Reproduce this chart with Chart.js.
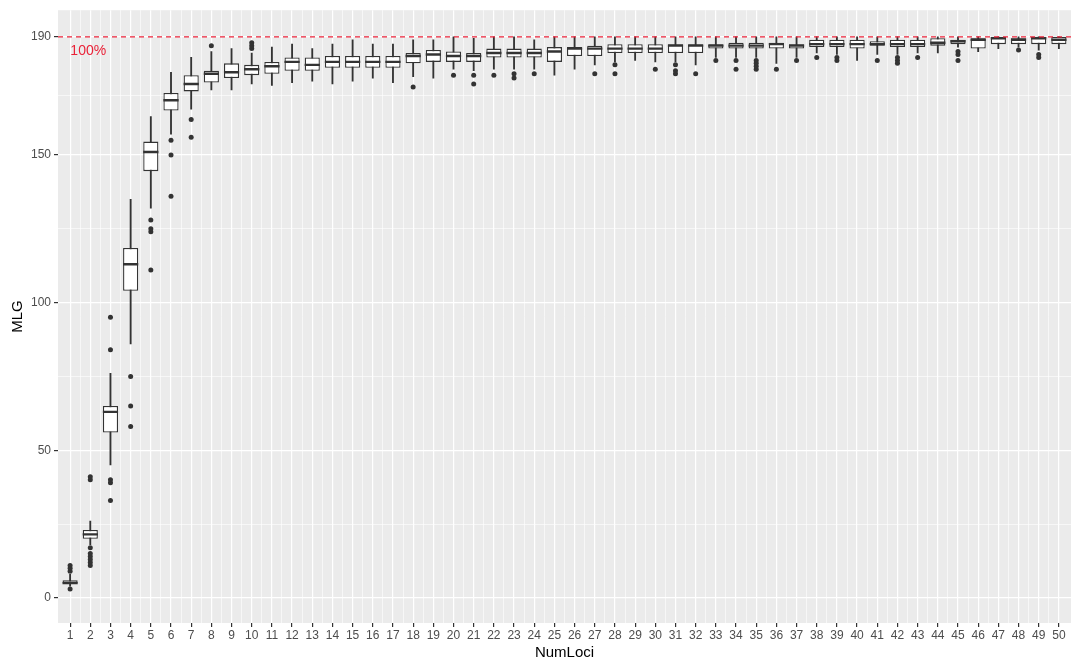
<!DOCTYPE html>
<html>
<head>
<meta charset="utf-8">
<script src="https://cdn.jsdelivr.net/npm/chart.js@4.4.1/dist/chart.umd.min.js"></script>
<style>
  html, body { margin: 0; padding: 0; background: #fff; overflow: hidden; }
  #wrap { width: 1081px; height: 664px; }
</style>
</head>
<body>
<div id="wrap"><canvas id="mlgChart" width="1081" height="664"></canvas></div>
<script>
// number of loci sampled (x categories)
const numLoci = [1, 2, 3, 4, 5, 6, 7, 8, 9, 10, 11, 12, 13, 14, 15, 16, 17, 18, 19, 20,
  21, 22, 23, 24, 25, 26, 27, 28, 29, 30, 31, 32, 33, 34, 35, 36, 37, 38, 39, 40,
  41, 42, 43, 44, 45, 46, 47, 48, 49, 50];

// box stats
const whiskerLow = [4, 18, 45, 86, 132, 157, 165.5, 172, 172, 174,
  173.5, 174.5, 175, 174, 175, 176, 174.5, 176.5, 176, 179,
  178.5, 179, 179, 179, 177, 179, 180.5, 181.5, 182, 181.5,
  181.5, 180.5, 183, 183, 183, 181, 183, 184.5, 184, 182,
  184, 184, 184.5, 184.5, 186.5, 185, 186, 186.5, 185.5, 186];
const q1 = [5, 20, 56, 104, 144.5, 165, 171.5, 174.5, 176, 177,
  177.5, 178.5, 178.5, 179.5, 179.5, 179.5, 179.5, 181, 181.5, 181.5,
  181.5, 183, 183, 183, 181.5, 183.5, 183.5, 184.5, 184.5, 184.5,
  184.5, 184.5, 186, 186, 186, 186, 186, 186.5, 186.5, 186,
  187, 186.5, 186.5, 187, 187.5, 186, 187.5, 187.5, 187.5, 187.5];
const median = [5, 21.5, 63, 113, 151, 168.5, 174, 177.5, 178, 179,
  180, 181.5, 180.5, 181.5, 181.5, 181.5, 181.5, 183.5, 184, 183.5,
  183.5, 184.5, 184.5, 184.5, 185, 186, 186, 186, 186, 186,
  187, 187, 187, 187, 187, 187.5, 187, 187.5, 187.5, 187.5,
  187.5, 187.5, 187.5, 188, 188.5, 189, 189.5, 189, 189.5, 189];
const q3 = [6, 23, 65, 118.5, 154.5, 171, 177, 178.5, 181, 180.5,
  181.5, 183, 183, 183.5, 183.5, 183.5, 183.5, 184.5, 185.5, 185,
  184.5, 186, 186, 186, 186.5, 186.5, 187, 187.5, 187.5, 187.5,
  187.5, 187.5, 187.5, 188, 188, 188, 187.5, 189, 189, 189,
  188.5, 189, 189, 189.5, 189, 189.5, 190, 189.5, 190, 190];
const whiskerHigh = [8, 26, 76, 135, 163, 178, 183, 185, 186, 184.5,
  186.5, 187.5, 186, 187.5, 189, 187.5, 187.5, 189, 189, 190,
  189.5, 190, 190, 189, 190, 190, 190, 190, 190, 190,
  190, 190, 190, 190, 190, 190, 190, 190, 190, 190,
  190, 190, 190, 190, 190, 190, 190, 190, 190, 190];
const outliers = [
  [3, 9, 10, 11], [11, 12, 13, 14, 15, 17, 40, 41], [33, 39, 40, 84, 95], [58, 65, 75], [111, 124, 125, 128],
  [136, 150, 155], [156, 162], [187], [], [186, 187, 188],
  [], [], [], [], [],
  [], [], [173], [], [177],
  [174, 177], [177], [176, 177.5], [177.5], [],
  [], [177.5], [177.5, 180.5], [], [179],
  [177.5, 178.5, 180.5], [177.5], [182], [179, 182], [179, 180, 181, 182],
  [179], [182], [183], [182, 183], [],
  [182], [181, 182, 183], [183], [], [182, 184, 185],
  [], [], [185.5], [183, 184], []
];

const yBreaks = [0, 50, 100, 150, 190];
const yMinor = [25, 75, 125, 170];
const xMinor = numLoci.slice(0, -1).map(n => n + 0.5);
const fullMLG = 190;

const ink = "#333333";
const tickText = "#4d4d4d";
const red = "#ea2238";

const boxData = numLoci.map((n, i) => ({ x: n, y: [q1[i], q3[i]] }));
const whiskerData = numLoci.map((n, i) => ({ x: n, y: [whiskerLow[i], whiskerHigh[i]] }));
const medianData = numLoci.map((n, i) => ({ x: n, y: median[i] }));
const outlierData = [];
outliers.forEach((list, i) => list.forEach(v => outlierData.push({ x: numLoci[i], y: v })));

const isMinorX = v => !Number.isInteger(v);

// grey panel behind the grid, like theme_grey
const panelBg = {
  id: "panelBg",
  beforeDraw(chart) {
    const { ctx, chartArea: a } = chart;
    ctx.save();
    ctx.fillStyle = "#ebebeb";
    ctx.fillRect(a.left, a.top, a.right - a.left, a.bottom - a.top);
    ctx.restore();
  }
};

// "100%" note under the dashed line
const fullLabel = {
  id: "fullLabel",
  afterDatasetsDraw(chart) {
    const { ctx, scales } = chart;
    ctx.save();
    ctx.fillStyle = red;
    ctx.font = "14px 'Liberation Sans', Arial, sans-serif";
    ctx.textAlign = "center";
    ctx.textBaseline = "middle";
    ctx.fillText("100%", scales.x.getPixelForValue(1.9), scales.y.getPixelForValue(185.3));
    ctx.restore();
  }
};

Chart.defaults.font.family = "'Liberation Sans', Arial, sans-serif";
Chart.defaults.animation = false;

new Chart(document.getElementById("mlgChart"), {
  type: "bar",
  data: {
    datasets: [
      {
        type: "line",
        data: [{ x: 0.4, y: fullMLG }, { x: 50.6, y: fullMLG }],
        borderColor: red,
        borderWidth: 1.3,
        borderDash: [5, 4],
        pointRadius: 0,
        order: 0
      },
      {
        type: "line",
        data: outlierData,
        showLine: false,
        pointRadius: 2.5,
        pointBackgroundColor: ink,
        pointBorderWidth: 0,
        order: 1
      },
      {
        type: "line",
        data: medianData,
        showLine: false,
        pointStyle: "line",
        pointRadius: 7.6,
        pointBorderColor: ink,
        pointBorderWidth: 2.4,
        order: 2
      },
      {
        data: boxData,
        backgroundColor: "#ffffff",
        borderColor: ink,
        borderWidth: 1.3,
        borderSkipped: false,
        grouped: false,
        barPercentage: 0.75,
        categoryPercentage: 1,
        order: 3
      },
      {
        data: whiskerData,
        backgroundColor: ink,
        borderWidth: 0,
        grouped: false,
        barThickness: 1.2,
        order: 4
      }
    ]
  },
  options: {
    responsive: false,
    layout: { padding: { top: 8, left: 0, right: 0, bottom: 0 } },
    plugins: {
      legend: { display: false },
      tooltip: { enabled: false }
    },
    scales: {
      x: {
        type: "linear",
        min: 0.4,
        max: 50.6,
        offset: false,
        afterBuildTicks: s => { s.ticks = numLoci.concat(xMinor).map(v => ({ value: v })); },
        afterFit: s => { s.height = 41; },
        border: { display: false },
        grid: {
          offset: false,
          color: "#ffffff",
          lineWidth: c => (isMinorX(c.tick.value) ? 0.6 : 1.2),
          tickColor: c => (isMinorX(c.tick.value) ? "rgba(0,0,0,0)" : ink),
          tickLength: 4
        },
        ticks: {
          autoSkip: false,
          maxRotation: 0,
          color: tickText,
          font: { size: 12 },
          padding: 1,
          callback: v => (isMinorX(v) ? "" : v)
        },
        title: {
          display: true,
          text: "NumLoci",
          color: "#000",
          font: { size: 15 },
          padding: { top: 0, bottom: 2 }
        }
      },
      y: {
        min: -8.5,
        max: 199,
        afterBuildTicks: s => { s.ticks = yBreaks.concat(yMinor).map(v => ({ value: v })); },
        afterFit: s => { s.width = 58; },
        border: { display: false },
        grid: {
          color: "#ffffff",
          lineWidth: c => (yMinor.includes(c.tick.value) ? 0.6 : 1.2),
          tickColor: c => (yMinor.includes(c.tick.value) ? "rgba(0,0,0,0)" : ink),
          tickLength: 4
        },
        ticks: {
          color: tickText,
          font: { size: 12 },
          padding: 3,
          callback: v => (yBreaks.includes(v) ? v : "")
        },
        title: {
          display: true,
          text: "MLG",
          color: "#000",
          font: { size: 15 },
          padding: { top: 9, bottom: 0 }
        }
      }
    }
  },
  plugins: [panelBg, fullLabel]
});
</script>
</body>
</html>
